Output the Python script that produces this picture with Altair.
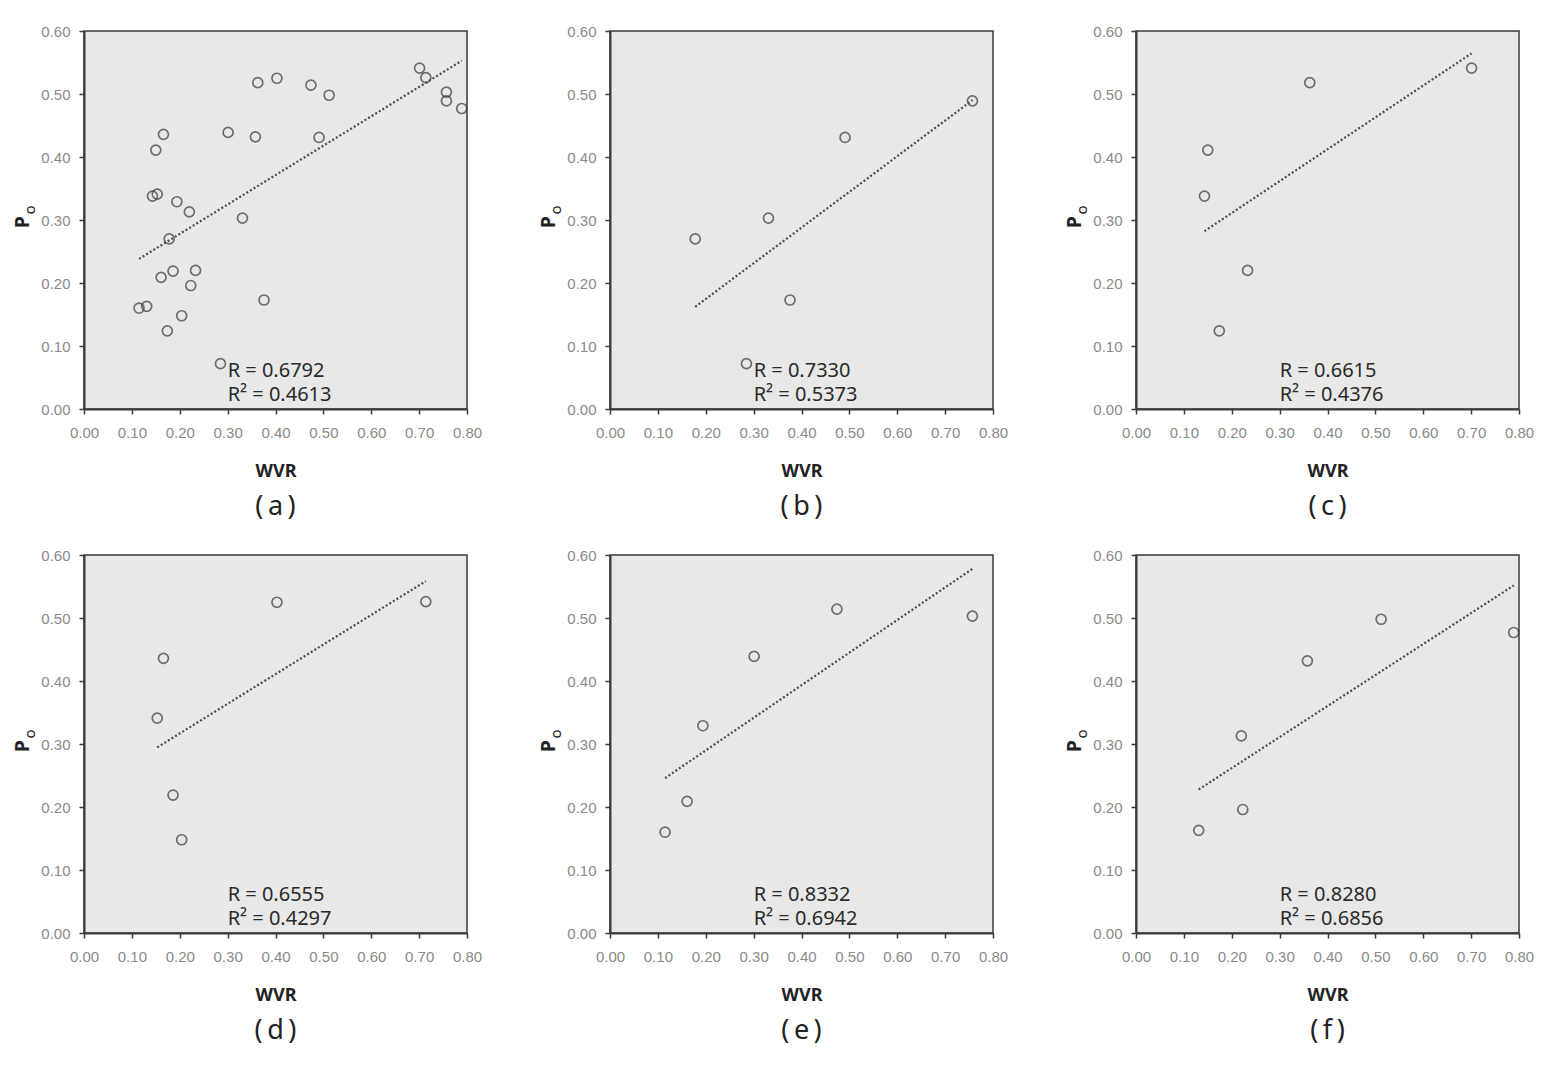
import altair as alt
import pandas as pd

# ---- data (WVR, Po) ----
wvr_b = [0.178, 0.285, 0.331, 0.376, 0.491, 0.757]
po_b = [0.270, 0.072, 0.303, 0.173, 0.431, 0.489]
wvr_c = [0.143, 0.150, 0.174, 0.233, 0.363, 0.701]
po_c = [0.338, 0.411, 0.124, 0.220, 0.518, 0.541]
wvr_d = [0.153, 0.166, 0.186, 0.204, 0.403, 0.714]
po_d = [0.341, 0.436, 0.219, 0.148, 0.525, 0.526]
wvr_e = [0.115, 0.161, 0.194, 0.301, 0.474, 0.757]
po_e = [0.160, 0.209, 0.329, 0.439, 0.514, 0.503]
wvr_f = [0.131, 0.220, 0.223, 0.358, 0.512, 0.789]
po_f = [0.163, 0.313, 0.196, 0.432, 0.498, 0.477]
# panel (a) shows all sites
wvr_a = wvr_b + wvr_c + wvr_d + wvr_e + wvr_f
po_a = po_b + po_c + po_d + po_e + po_f

panel_letters = ["a", "b", "c", "d", "e", "f"]
r_values = ["0.6792", "0.7330", "0.6615", "0.6555", "0.8332", "0.8280"]
r2_values = ["0.4613", "0.5373", "0.4376", "0.4297", "0.6942", "0.6856"]

x_ticks = [0.0, 0.1, 0.2, 0.3, 0.4, 0.5, 0.6, 0.7, 0.8]
y_ticks = [0.0, 0.1, 0.2, 0.3, 0.4, 0.5, 0.6]

# annotation anchor (data units)
ann_x = 0.30
ann_y = [0.061, 0.023]

TICK_FONT = "Liberation Sans, Arial, sans-serif"
TEXT_FONT = "Noto Sans, DejaVu Sans, sans-serif"


def panel(xs, ys, letter, r, r2):
    df = pd.DataFrame({"WVR": xs, "Po": ys})
    xenc = alt.X(
        "WVR:Q",
        scale=alt.Scale(domain=[0, 0.8], nice=False),
        axis=alt.Axis(values=x_ticks, format=".2f", title="WVR", labelFlush=False),
    )
    yenc = alt.Y(
        "Po:Q",
        scale=alt.Scale(domain=[0, 0.6], nice=False),
        axis=alt.Axis(values=y_ticks, format=".2f", title=None, labelFlush=False),
    )
    base = alt.Chart(df)
    pts = base.mark_point(
        shape="circle", filled=False, size=100, strokeWidth=1.7, color="#3a3a3a"
    ).encode(x=xenc, y=yenc)
    trend = (
        base.transform_regression("WVR", "Po")
        .mark_line(strokeDash=[2, 2.2], strokeWidth=2.2, color="#4a4a4a")
        .encode(x=xenc, y=yenc)
    )
    ann = pd.DataFrame(
        {"WVR": [ann_x, ann_x], "Po": ann_y, "txt": [f"R = {r}", f"R² = {r2}"]}
    )
    text = (
        alt.Chart(ann)
        .mark_text(align="left", baseline="middle", fontSize=20, font=TEXT_FONT, color="#2a2a2a")
        .encode(x=xenc, y=yenc, text="txt:N")
    )
    # y-axis title "P" with subscript "o"
    ytitle_p = alt.Chart(pd.DataFrame({"t": ["P"]})).mark_text(
        angle=270, align="center", baseline="middle", fontSize=19, fontWeight="bold",
        font=TEXT_FONT, color="#222"
    ).encode(text="t:N", x=alt.value(-61), y=alt.value(191))
    ytitle_o = alt.Chart(pd.DataFrame({"t": ["o"]})).mark_text(
        angle=270, align="center", baseline="middle", fontSize=15,
        font=TEXT_FONT, color="#222"
    ).encode(text="t:N", x=alt.value(-54), y=alt.value(179))
    return alt.layer(pts, trend, text, ytitle_p, ytitle_o).properties(
        width=383,
        height=378,
        title=alt.TitleParams(
            f"(\u2009{letter}\u2009)",
            orient="bottom",
            anchor="middle",
            frame="group",
            font=TEXT_FONT,
            fontSize=27,
            fontWeight="normal",
            color="#222",
            offset=14,
        ),
    )


panels = [
    panel(wvr_a, po_a, panel_letters[0], r_values[0], r2_values[0]),
    panel(wvr_b, po_b, panel_letters[1], r_values[1], r2_values[1]),
    panel(wvr_c, po_c, panel_letters[2], r_values[2], r2_values[2]),
    panel(wvr_d, po_d, panel_letters[3], r_values[3], r2_values[3]),
    panel(wvr_e, po_e, panel_letters[4], r_values[4], r2_values[4]),
    panel(wvr_f, po_f, panel_letters[5], r_values[5], r2_values[5]),
]

chart = (
    alt.concat(*panels, columns=3, spacing=alt.RowColnumber(row=146, column=143), bounds="flush")
    .properties(padding={"left": 5, "top": 15, "right": 5, "bottom": 5})
    .configure(background="white")
    .configure_view(fill="#e8e8e8", stroke="#3a3a3a", strokeWidth=1.5)
    .configure_axis(
        grid=False,
        domainColor="#3a3a3a",
        domainWidth=2,
        tickColor="#3a3a3a",
        tickWidth=1.5,
        tickSize=5,
        labelFont=TICK_FONT,
        labelFontSize=15,
        labelColor="#8a8a8a",
        labelPadding=9,
        titleFont=TEXT_FONT,
        titleFontSize=18,
        titleFontWeight="bold",
        titleColor="#222",
    )
    .configure_axisX(titlePadding=22, labelPadding=11)
)

chart.save("out.html", embed_options={"renderer": "svg", "actions": False})
